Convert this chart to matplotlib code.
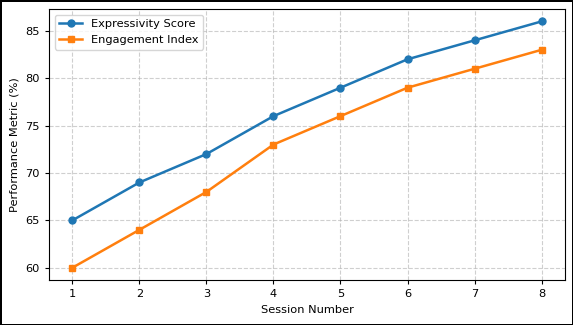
import matplotlib.pyplot as plt

sessions = [1, 2, 3, 4, 5, 6, 7, 8]
expressivity = [65, 69, 72, 76, 79, 82, 84, 86]
engagement = [60, 64, 68, 73, 76, 79, 81, 83]

fig = plt.figure(figsize=(5.73, 3.25), dpi=100, edgecolor='black', linewidth=1.0)
ax = fig.add_axes([0.0855, 0.1385, 0.9005, 0.8335])

ax.plot(sessions, expressivity, 'o-', color='#1f77b4', linewidth=1.8, markersize=5, label='Expressivity Score')
ax.plot(sessions, engagement, 's-', color='#ff7f0e', linewidth=1.8, markersize=5, label='Engagement Index')

ax.set_xlabel('Session Number', fontsize=8.2)
ax.set_ylabel('Performance Metric (%)', fontsize=8.2)
ax.set_xticks(sessions)
ax.tick_params(labelsize=8.2, length=3)
ax.grid(True, linestyle='--', alpha=0.6)
ax.legend(loc='upper left', fontsize=8.2)

fig.savefig('out.png', dpi=100, edgecolor=fig.get_edgecolor())
